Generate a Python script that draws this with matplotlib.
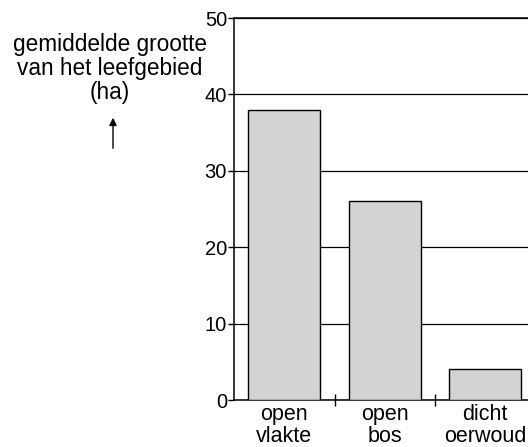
import matplotlib
matplotlib.use("Agg")
import matplotlib.pyplot as plt

# data
habitats = ["open\nvlakte", "open\nbos", "dicht\noerwoud"]
area_ha = [38, 26, 4]
y_ticks = [0, 10, 20, 30, 40, 50]
ylabel_lines = ["gemiddelde grootte", "van het leefgebied", "(ha)"]

plt.rcParams["font.family"] = ["Liberation Sans", "DejaVu Sans"]
plt.rcParams["font.size"] = 14.5

fig = plt.figure(figsize=(5.28, 4.47), dpi=100)
# right edge of the axes runs past the figure, like in the scan
ax = fig.add_axes([234 / 528, 47 / 447, 301.5 / 528, 382 / 447])

pos = [i + 0.5 for i in range(len(habitats))]
ax.bar(pos, area_ha, width=0.72, color="#d3d3d3", edgecolor="black",
       linewidth=1.0, zorder=3)

ax.set_xlim(0, 3)
ax.set_ylim(0, 50)
ax.set_yticks(y_ticks)
ax.yaxis.grid(True, color="black", linewidth=0.9)
ax.set_axisbelow(True)

# boundary ticks between the bars, labels centred under bars
ax.set_xticks([1, 2])
ax.set_xticklabels([])
ax.tick_params(axis="x", which="major", direction="inout", length=9, width=1.0)
ax.set_xticks(pos, minor=True)
ax.set_xticklabels(habitats, minor=True, linespacing=1.05, fontsize=15.5)
ax.tick_params(axis="x", which="minor", length=0, pad=3)
ax.tick_params(axis="y", direction="out", length=4, width=1.0, pad=1)

for side in ["left", "top", "bottom"]:
    ax.spines[side].set_linewidth(1.1)
ax.spines["right"].set_visible(False)

# y label as three separate lines, centred above the arrow
for i, line in enumerate(ylabel_lines):
    fig.text(110 / 528, 1 - (45 + 24 * i) / 447, line, ha="center",
             va="center", fontsize=16.3)
fig.patches.append(matplotlib.patches.FancyArrowPatch(
    (113 / 528, 1 - 151 / 447), (113 / 528, 1 - 115 / 447),
    transform=fig.transFigure, arrowstyle="-|>", mutation_scale=11,
    color="black", linewidth=1.0))

fig.savefig("out.png", dpi=100)
